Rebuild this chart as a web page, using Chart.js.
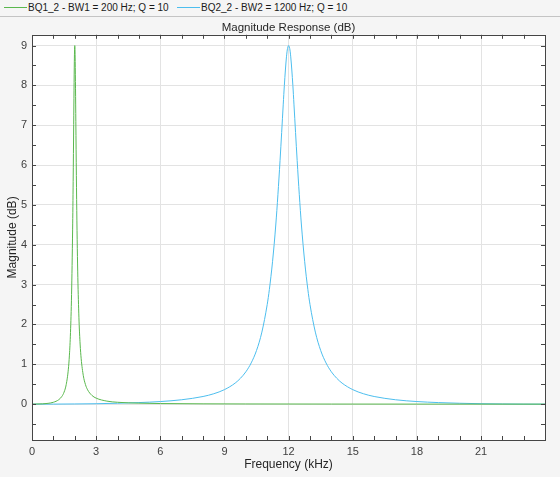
<!DOCTYPE html>
<html>
<head>
<meta charset="utf-8">
<script src="https://cdn.jsdelivr.net/npm/chart.js@4"></script>
<style>
  body { margin: 0; background: #f5f5f5; font-family: "Liberation Sans", Arial, sans-serif; }
  #legend { position: relative; width: 560px; height: 16px; border-bottom: 1px solid #c4c4c4; font-size: 10px; color: #1a1a1a; }
  .item { position: absolute; top: 0; height: 16px; line-height: 16px; white-space: nowrap; }
  .swatch { position: absolute; top: 7px; width: 23px; height: 0; border-top: 1px solid; }
  .label { position: absolute; left: 24px; top: 0; }
  #wrap { position: relative; width: 560px; height: 459px; }
</style>
</head>
<body>
<div id="legend">
  <div class="item" style="left:4px"><span class="swatch" style="border-color:#5ab84e"></span><span class="label">BQ1_2 - BW1 = 200 Hz; Q = 10</span></div>
  <div class="item" style="left:177px"><span class="swatch" style="border-color:#4dbeee"></span><span class="label">BQ2_2 - BW2 = 1200 Hz; Q = 10</span></div>
</div>
<div id="wrap"><canvas id="c"></canvas></div>
<script>
// frequency in kHz, magnitude in dB
const bq1Freq = [0, 0.5, 0.75, 1, 1.25, 1.4, 1.5, 1.6, 1.7, 1.75, 1.8, 1.85, 1.9, 1.925, 1.95, 1.965, 1.98, 1.99, 2,
  2.01, 2.02, 2.035, 2.05, 2.075, 2.1, 2.125, 2.15, 2.2, 2.25, 2.3, 2.4, 2.5, 2.6, 2.8, 3, 3.5, 4, 5, 6, 8, 10, 14, 18, 24]
const bq1Mag = [0, 0.008, 0.020, 0.047, 0.111, 0.196, 0.301, 0.491, 0.877, 1.230, 1.796, 2.748, 4.393, 5.591, 7.017, 7.881, 8.594, 8.895, 9.0,
  8.896, 8.60, 7.914, 7.089, 5.736, 4.600, 3.709, 3.022, 2.085, 1.509, 1.139, 0.714, 0.491, 0.360, 0.220, 0.151, 0.076, 0.047, 0.024, 0.015, 0.008, 0.005, 0.002, 0.001, 0]

const bq2Freq = [0, 1, 2, 3, 4, 5, 6, 7, 8, 8.5, 9, 9.5, 9.75, 10, 10.25, 10.5, 10.75, 11, 11.1, 11.25, 11.4, 11.5, 11.6, 11.75, 11.8, 11.9, 11.95, 12,
  12.05, 12.1, 12.2, 12.25, 12.4, 12.5, 12.6, 12.75, 12.9, 13, 13.25, 13.5, 13.75, 14, 14.25, 14.5, 15, 15.5, 16, 17, 18, 19, 20, 21, 22, 23, 24]
const bq2Mag = [0, 0.001, 0.005, 0.011, 0.022, 0.039, 0.065, 0.110, 0.192, 0.261, 0.364, 0.528, 0.650, 0.811, 1.034, 1.347, 1.808, 2.502, 2.877, 3.585, 4.496, 5.257, 6.116, 7.530, 7.993, 8.717, 8.929, 9.0,
  8.929, 8.717, 7.993, 7.530, 6.116, 5.257, 4.496, 3.585, 2.877, 2.502, 1.808, 1.347, 1.034, 0.811, 0.650, 0.528, 0.364, 0.261, 0.192, 0.110, 0.065, 0.039, 0.022, 0.011, 0.005, 0.001, 0]

const xTicks = [0, 3, 6, 9, 12, 15, 18, 21]
const yTicks = [0, 1, 2, 3, 4, 5, 6, 7, 8, 9]

const toPoints = (xs, ys) => xs.map((x, i) => ({ x: x, y: ys[i] }))

// white plot area, box and inward tick marks like the original axes
const axesBox = {
  id: "axesBox",
  beforeDraw(chart) {
    const a = chart.chartArea
    const ctx = chart.ctx
    ctx.save()
    ctx.fillStyle = "#ffffff"
    ctx.fillRect(a.left, a.top, a.right - a.left, a.bottom - a.top)
    ctx.restore()
  },
  afterDraw(chart) {
    const a = chart.chartArea
    const ctx = chart.ctx
    const xs = chart.scales.x
    const ys = chart.scales.y
    ctx.save()
    ctx.strokeStyle = "#454545"
    ctx.lineWidth = 1
    ctx.beginPath()
    for (let v = 1; v < 24; v++) {
      const px = Math.round(xs.getPixelForValue(v)) + 0.5
      ctx.moveTo(px, a.bottom); ctx.lineTo(px, a.bottom - 4)
      ctx.moveTo(px, a.top); ctx.lineTo(px, a.top + 4)
    }
    for (let v = -0.5; v <= 9; v += 0.5) {
      const py = Math.round(ys.getPixelForValue(v)) + 0.5
      ctx.moveTo(a.left, py); ctx.lineTo(a.left + 4, py)
      ctx.moveTo(a.right, py); ctx.lineTo(a.right - 4, py)
    }
    ctx.stroke()
    ctx.strokeRect(Math.round(a.left) + 0.5, Math.round(a.top) + 0.5, Math.round(a.right - a.left), Math.round(a.bottom - a.top))
    ctx.restore()
  }
}

const lineStyle = { showLine: true, borderWidth: 1, pointRadius: 0, cubicInterpolationMode: "monotone" }

new Chart(document.getElementById("c"), {
  type: "scatter",
  data: {
    datasets: [
      { label: "BQ1_2 - BW1 = 200 Hz; Q = 10", data: toPoints(bq1Freq, bq1Mag), borderColor: "#5ab84e", ...lineStyle },
      { label: "BQ2_2 - BW2 = 1200 Hz; Q = 10", data: toPoints(bq2Freq, bq2Mag), borderColor: "#4dbeee", ...lineStyle }
    ]
  },
  options: {
    responsive: true,
    maintainAspectRatio: false,
    animation: false,
    layout: { padding: { left: 0, right: 15, top: 0, bottom: 0 } },
    plugins: {
      legend: { display: false },
      tooltip: { enabled: false },
      title: {
        display: true,
        text: "Magnitude Response (dB)",
        fullSize: false,
        color: "#262626",
        font: { family: "Liberation Sans", size: 11.5, weight: "normal", lineHeight: 1.2 },
        padding: { top: 4, bottom: 0 }
      }
    },
    scales: {
      x: {
        type: "linear",
        min: 0,
        max: 23.99,
        afterBuildTicks: (s) => { s.ticks = xTicks.map((v) => ({ value: v })) },
        afterFit: (s) => { s.height = 36 },
        grid: { color: "#e3e3e3", drawTicks: false },
        border: { display: false },
        ticks: { color: "#404040", padding: 5, maxRotation: 0, font: { family: "Liberation Sans", size: 11 } },
        title: { display: true, text: "Frequency (kHz)", color: "#262626", font: { family: "Liberation Sans", size: 12 }, padding: { top: 0, bottom: 4 } }
      },
      y: {
        type: "linear",
        min: -0.9,
        max: 9.27,
        afterBuildTicks: (s) => { s.ticks = yTicks.map((v) => ({ value: v })) },
        afterFit: (s) => { s.width = 32 },
        grid: { color: "#e3e3e3", drawTicks: false },
        border: { display: false },
        ticks: { color: "#404040", padding: 5, font: { family: "Liberation Sans", size: 11 } },
        title: { display: true, text: "Magnitude (dB)", color: "#262626", font: { family: "Liberation Sans", size: 12 }, padding: { top: 5, bottom: 0 } }
      }
    }
  },
  plugins: [axesBox]
})
</script>
</body>
</html>
